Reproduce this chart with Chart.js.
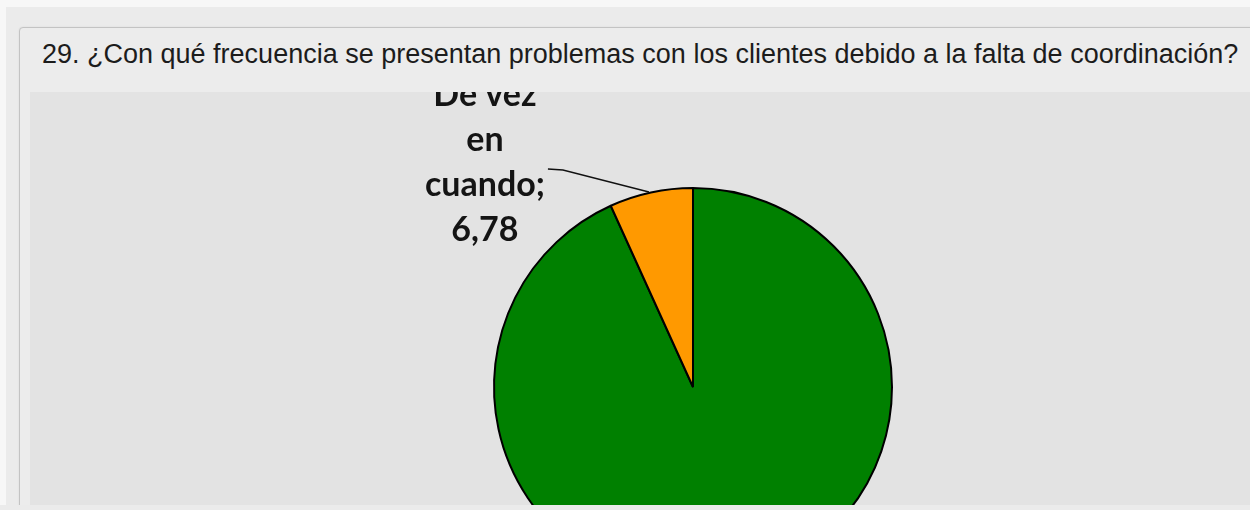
<!DOCTYPE html>
<html>
<head>
<meta charset="utf-8">
<script src="https://cdn.jsdelivr.net/npm/chart.js@4.4.1/dist/chart.umd.min.js"></script>
<style>
  html, body { margin:0; padding:0; width:1250px; height:510px; overflow:hidden; background:#f7f7f7; }
  #outer { position:absolute; left:6px; top:7px; width:1244px; height:498px; background:#ebebeb; }
  #panel { position:absolute; left:19px; top:27px; width:1240px; height:490px; background:#ececec;
           border:1px solid #c3c3c3; border-radius:4px; box-shadow:0 0 2px rgba(0,0,0,0.08); }
  #inner { position:absolute; left:30px; top:92px; width:1220px; height:413px; background:#e3e3e3; }
  #title { position:absolute; left:42px; top:41px; font-family:"Liberation Sans", Arial, sans-serif;
           font-size:27px; line-height:27px; color:#1c1c1c; white-space:nowrap; }
  #wrap { position:absolute; left:0; top:0; width:1250px; height:505px; overflow:hidden; }
  #bottom { position:absolute; left:0; top:505px; width:1250px; height:5px; background:#ebebeb; }
  canvas { display:block; }
</style>
</head>
<body>
<div id="outer"></div>
<div id="panel"></div>
<div id="inner"></div>
<div id="title">29. ¿Con qué frecuencia se presentan problemas con los clientes debido a la falta de coordinación?</div>
<div id="wrap"><canvas id="c" width="1250" height="600" style="width:1250px;height:600px"></canvas></div>
<div id="bottom"></div>
<script>
const categories = ["Nunca", "De vez en cuando"];
const values = [93.22, 6.78];
const valueLabels = ["93,22", "6,78"];
const sliceColors = ["#008000", "#ff9900"];

const labelPlugin = {
  id: 'sliceLabel',
  afterDatasetsDraw(chart) {
    const ctx = chart.ctx;
    const arc = chart.getDatasetMeta(0).data[1];
    const mid = (arc.startAngle + arc.endAngle) / 2;
    const ex = arc.x + Math.cos(mid) * arc.outerRadius;
    const ey = arc.y + Math.sin(mid) * arc.outerRadius;
    ctx.save();
    ctx.beginPath();
    ctx.rect(30, 92, 1220, 413);
    ctx.clip();
    // leader line
    ctx.strokeStyle = '#111';
    ctx.lineWidth = 1.3;
    ctx.beginPath();
    ctx.moveTo(ex - 103, ey - 23.5);
    ctx.lineTo(ex - 88, ey - 22.5);
    ctx.lineTo(ex - 2, ey - 0.5);
    ctx.stroke();
    // label text
    const lines = ["De vez", "en", "cuando;", valueLabels[1]];
    ctx.fillStyle = '#141414';
    ctx.font = 'bold 34px Lato, "Open Sans", sans-serif';
    ctx.textAlign = 'center';
    ctx.textBaseline = 'alphabetic';
    const cx = ex - 166;
    lines.forEach((t, i) => {
      ctx.fillText(t, cx, ey - 86 + i * 45);
    });
    ctx.restore();
  }
};

new Chart(document.getElementById('c'), {
  type: 'pie',
  data: {
    labels: categories,
    datasets: [{
      data: values,
      backgroundColor: sliceColors,
      borderColor: '#000',
      borderWidth: 2
    }]
  },
  options: {
    responsive: false,
    animation: false,
    layout: { padding: { left: 493, top: 187, right: 357, bottom: 13 } },
    plugins: { legend: { display: false }, tooltip: { enabled: false }, title: { display: false } }
  },
  plugins: [labelPlugin]
});
</script>
</body>
</html>
